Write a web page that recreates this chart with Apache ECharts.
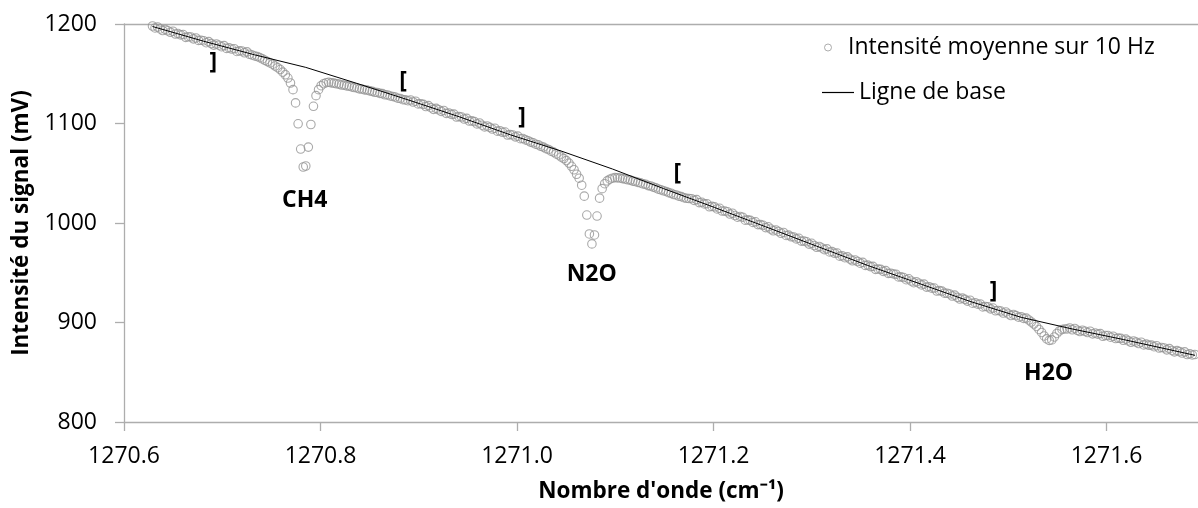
<!DOCTYPE html>
<html>
<head>
<meta charset="utf-8">
<script src="https://cdn.jsdelivr.net/npm/echarts@6/dist/echarts.min.js"></script>
<style>
  html, body { margin: 0; padding: 0; background: #fff; }
  #chart { width: 1198px; height: 508px; }
</style>
</head>
<body>
<div id="chart"></div>
<script>
// wavenumber grid of the scan (cm-1)
const X_START = 1270.629;
const X_STEP = 0.0026;

// mean intensity over 10 Hz (mV), one value per grid step
const intensity = [
  1198.0, 1196.0, 1197.0, 1195.0, 1193.4, 1194.5, 1193.2, 1191.7, 1192.7, 1189.9,
  1190.4, 1189.1, 1189.4, 1186.6, 1187.2, 1187.0, 1185.1, 1186.0, 1183.5, 1183.7,
  1183.2, 1181.2, 1182.3, 1180.3, 1178.8, 1179.9, 1178.7, 1177.2, 1178.3, 1175.5,
  1176.1, 1174.8, 1175.2, 1172.4, 1173.0, 1172.9, 1171.1, 1172.0, 1169.6, 1168.8,
  1167.9, 1167.3, 1166.2, 1164.9, 1163.5, 1162.2, 1160.9, 1159.6, 1157.8, 1156.1,
  1154.2, 1151.6, 1149.0, 1145.7, 1140.7, 1134.0, 1120.7, 1099.7, 1074.3, 1056.3,
  1057.3, 1076.3, 1099.0, 1117.3, 1128.0, 1134.0, 1138.0, 1140.0, 1141.0, 1141.4,
  1140.8, 1140.6, 1139.9, 1139.6, 1138.7, 1138.6, 1137.8, 1137.6, 1136.8, 1136.2,
  1135.7, 1134.8, 1134.6, 1133.8, 1133.6, 1132.8, 1132.3, 1131.4, 1131.2, 1130.3,
  1130.0, 1128.9, 1128.7, 1127.7, 1127.2, 1126.6, 1125.4, 1125.2, 1123.9, 1123.7,
  1122.9, 1123.6, 1121.6, 1122.4, 1119.7, 1119.9, 1119.2, 1117.1, 1118.0, 1115.9,
  1114.2, 1115.2, 1113.8, 1112.2, 1113.1, 1110.2, 1110.6, 1109.2, 1109.4, 1106.5,
  1106.9, 1106.5, 1104.5, 1105.2, 1102.5, 1102.6, 1101.9, 1099.6, 1100.5, 1098.3,
  1096.6, 1097.5, 1096.1, 1094.4, 1095.3, 1092.3, 1092.7, 1091.2, 1091.4, 1088.4,
  1088.8, 1088.5, 1086.6, 1087.3, 1084.7, 1084.9, 1083.5, 1082.7, 1081.3, 1080.6,
  1079.2, 1078.6, 1077.1, 1076.3, 1074.7, 1073.9, 1072.2, 1071.2, 1069.4, 1068.3,
  1066.3, 1064.8, 1062.7, 1060.2, 1057.0, 1053.5, 1049.0, 1045.0, 1038.0, 1027.0,
  1008.0, 989.0, 979.0, 988.0, 1007.0, 1025.0, 1034.5, 1039.5, 1042.3, 1044.0,
  1045.0, 1045.6, 1045.4, 1045.3, 1044.6, 1044.2, 1043.4, 1043.1, 1042.1, 1041.7,
  1040.8, 1040.3, 1039.3, 1038.9, 1037.6, 1037.2, 1036.1, 1035.3, 1034.0, 1033.4,
  1032.4, 1031.7, 1030.5, 1029.9, 1028.6, 1028.2, 1027.0, 1026.5, 1025.4, 1024.8,
  1024.6, 1024.4, 1022.7, 1023.5, 1020.5, 1020.8, 1019.2, 1019.4, 1016.3, 1016.7,
  1016.2, 1014.1, 1014.8, 1012.0, 1012.0, 1011.3, 1009.0, 1009.8, 1007.5, 1005.8,
  1006.6, 1005.8, 1002.8, 1003.1, 1002.6, 1000.6, 1001.2, 998.4, 998.4, 997.7,
  995.4, 996.2, 993.9, 992.2, 993.0, 991.5, 989.7, 990.5, 987.5, 987.8,
  986.2, 986.0, 984.0, 984.6, 981.8, 981.9, 981.1, 978.8, 979.6, 977.4,
  975.6, 976.4, 974.9, 973.2, 974.0, 970.9, 971.2, 969.6, 969.8, 966.7,
  967.0, 965.1, 966.0, 963.7, 962.0, 962.8, 961.3, 959.6, 960.4, 957.4,
  957.7, 956.2, 956.4, 953.4, 953.8, 953.4, 951.4, 952.1, 949.4, 949.5,
  948.8, 948.5, 945.8, 945.9, 945.2, 943.0, 943.9, 941.7, 940.0, 940.9,
  939.5, 937.8, 938.6, 935.6, 936.0, 934.5, 934.6, 931.6, 932.0, 931.5,
  929.5, 929.4, 928.7, 926.6, 927.5, 925.3, 923.6, 924.5, 923.2, 921.5,
  922.4, 919.4, 919.9, 918.4, 918.6, 915.7, 916.1, 915.7, 913.7, 914.5,
  911.8, 912.1, 911.5, 909.5, 910.6, 908.6, 907.0, 908.1, 906.9, 905.3,
  905.8, 904.1, 904.4, 902.5, 900.5, 898.5, 896.0, 893.0, 890.0, 886.5,
  883.5, 882.0, 882.5, 885.5, 889.0, 891.5, 893.0, 893.5, 893.5, 894.5,
  892.7, 894.0, 892.2, 890.9, 892.2, 891.2, 889.9, 891.2, 888.6, 889.4,
  888.3, 888.8, 886.2, 886.9, 886.9, 885.2, 886.2, 883.9, 884.3, 884.0,
  882.1, 883.3, 881.5, 880.1, 881.4, 880.3, 878.9, 880.2, 877.5, 878.3,
  877.1, 877.3, 875.7, 876.7, 874.3, 874.8, 874.4, 872.5, 873.7, 871.9,
  870.5, 871.7, 870.7, 869.3, 870.5, 867.8, 868.6, 867.4, 867.9
];

// baseline
const baselineX = [1270.629, 1270.681, 1270.733, 1270.785, 1270.837, 1270.889, 1270.941, 1270.993,
  1271.045, 1271.097, 1271.149, 1271.201, 1271.253, 1271.305, 1271.357, 1271.409, 1271.461,
  1271.513, 1271.565, 1271.617, 1271.669, 1271.690];
const baselineY = [1197.5, 1182.7, 1169.0, 1156.4, 1140.3, 1123.8, 1106.8, 1088.7,
  1072.3, 1054.3, 1034.6, 1015.6, 996.2, 976.7, 957.3, 939.3, 921.2,
  905.2, 893.5, 882.9, 871.6, 867.0];

const xTicks = [1270.6, 1270.8, 1271.0, 1271.2, 1271.4, 1271.6];

// annotations (brackets and peak names)
const noteText = ["]", "[", "]", "[", "]", "CH4", "N2O", "H2O"];
const noteX = [1270.691, 1270.884, 1271.005, 1271.163, 1271.485, 1270.784, 1271.076, 1271.541];
const noteY = [1161.5, 1142, 1106.5, 1050, 931.5, 1023, 948.5, 848.5];

const FONT = '"Open Sans", sans-serif';
const AXIS_COLOR = "#adadad";
const TEXT_SIZE = 23;
const CIRCLE_PATH = "path://M10,5A5,5,0,1,1,0,5A5,5,0,1,1,10,5Z";

const chartDom = document.getElementById("chart");
const myChart = echarts.init(chartDom, null, { renderer: "canvas" });

const scatterData = intensity.map((v, i) => [X_START + i * X_STEP, v]);
const baselineData = baselineX.map((x, i) => [x, baselineY[i]]);
const noteData = noteText.map((t, i) => ({ name: t, value: [noteX[i], noteY[i]] }));

const legendText = { fontFamily: FONT, fontSize: TEXT_SIZE, color: "#000" };

myChart.setOption({
  animation: false,
  textStyle: { fontFamily: FONT },
  grid: { left: 124, right: 0, top: 24, bottom: 84.7 },
  legend: [
    {
      data: [{ name: "Intensité moyenne sur 10 Hz", icon: CIRCLE_PATH }],
      left: 824, top: 36, padding: 0,
      itemWidth: 30, itemHeight: 7,
      symbolKeepAspect: true,
      itemStyle: { color: "rgba(255,255,255,0)", borderColor: "#999", borderWidth: 1 },
      textStyle: legendText,
    },
    {
      data: [{ name: "Ligne de base", icon: "rect" }],
      left: 822, top: 81, padding: 0,
      itemWidth: 32, itemHeight: 1.2,
      itemStyle: { color: "#000", borderWidth: 0 },
      textStyle: legendText,
    },
  ],
  xAxis: [
    {
      type: "value",
      min: 1270.6,
      max: 1271.693,
      position: "bottom",
      axisLine: { show: true, lineStyle: { color: AXIS_COLOR, width: 1.3 } },
      axisTick: { show: true, length: 9, customValues: xTicks, lineStyle: { color: AXIS_COLOR, width: 1.3 } },
      axisLabel: {
        customValues: xTicks,
        formatter: (v) => v.toFixed(1),
        margin: 23,
        fontSize: TEXT_SIZE,
        color: "#000",
        fontFamily: FONT,
      },
      splitLine: { show: false },
      name: "Nombre d'onde (cm⁻¹)",
      nameLocation: "middle",
      nameGap: 58,
      nameTextStyle: { fontFamily: FONT, fontSize: 22.5, fontWeight: "bold", color: "#000" },
    },
    {
      type: "value",
      min: 1270.6,
      max: 1271.693,
      position: "top",
      axisLine: { show: true, lineStyle: { color: AXIS_COLOR, width: 1.3 } },
      axisTick: { show: false },
      axisLabel: { show: false },
      splitLine: { show: false },
    },
  ],
  yAxis: {
    type: "value",
    min: 800,
    max: 1200,
    interval: 100,
    axisLine: { show: true, lineStyle: { color: AXIS_COLOR, width: 1.3 } },
    axisTick: { show: true, length: 9, lineStyle: { color: AXIS_COLOR, width: 1.3 } },
    axisLabel: {
      margin: 27,
      fontSize: TEXT_SIZE,
      color: "#000",
      fontFamily: FONT,
      formatter: (v) => String(v),
    },
    splitLine: { show: false },
    name: "Intensité du signal (mV)",
    nameLocation: "middle",
    nameGap: 91,
    nameTextStyle: { fontFamily: FONT, fontSize: 22.5, fontWeight: "bold", color: "#000" },
  },
  series: [
    {
      name: "Intensité moyenne sur 10 Hz",
      type: "scatter",
      data: scatterData,
      symbol: "circle",
      symbolSize: 8.5,
      itemStyle: { color: "rgba(255,255,255,0)", borderColor: "#939393", borderWidth: 1.1 },
      z: 2,
    },
    {
      name: "Ligne de base",
      type: "line",
      data: baselineData,
      symbol: "none",
      lineStyle: { color: "#000", width: 1 },
      itemStyle: { color: "#000" },
      z: 3,
    },
    {
      name: "notes",
      type: "scatter",
      data: noteData,
      symbol: "circle",
      symbolSize: 0,
      itemStyle: { color: "#000", opacity: 1 },
      silent: true,
      label: {
        show: true,
        position: "inside",
        formatter: (p) => p.name,
        fontFamily: FONT,
        fontSize: TEXT_SIZE,
        fontWeight: "bold",
        color: "#000",
        opacity: 1,
        textBorderWidth: 0,
      },
      z: 4,
    },
  ],
});

window.addEventListener("resize", () => myChart.resize());
</script>
</body>
</html>
